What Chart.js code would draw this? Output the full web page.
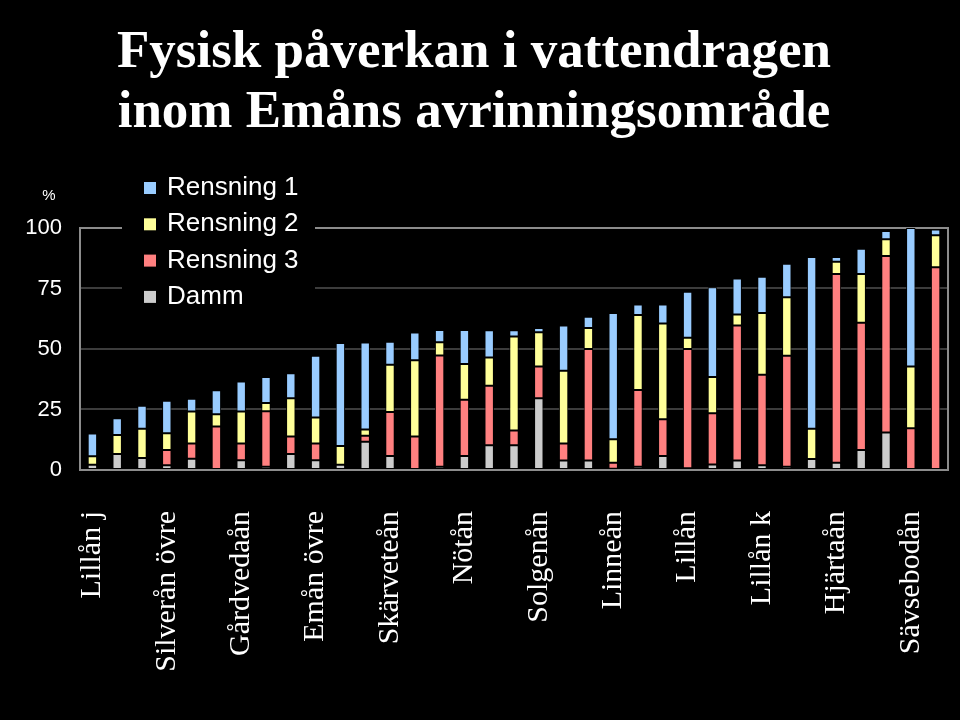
<!DOCTYPE html>
<html>
<head>
<meta charset="utf-8">
<script src="https://cdn.jsdelivr.net/npm/chart.js@4"></script>
<style>
  html, body { margin: 0; padding: 0; background: #000; }
  #wrap { width: 960px; height: 720px; }
</style>
</head>
<body>
<div id="wrap"><canvas id="chart" width="960" height="720"></canvas></div>
<script>
// vattendrag, bara var tredje har namn i originalet
const categories = [
  'Lillån j', '', '', 'Silverån övre', '', '', 'Gårdvedaån', '', '',
  'Emån övre', '', '', 'Skärveteån', '', '', 'Nötån', '', '',
  'Solgenån', '', '', 'Linneån', '', '', 'Lillån', '', '',
  'Lillån k', '', '', 'Hjärtaån', '', '', 'Sävsebodån', ''
];

// andel (%) per typ av påverkan
const damm = [2.2, 6.6, 5.0, 2.0, 4.7, 0, 4.0, 1.3, 6.6, 4.0, 2.2, 11.7, 5.8, 0, 1.3, 5.8, 10.2, 10.2, 29.6, 3.9, 3.9, 0.5, 1.3, 5.8, 0.7, 2.3, 3.9, 2.0, 1.3, 4.5, 3.0, 8.3, 15.5, 0, 0];
const rensning3 = [0, 0, 0, 6.3, 6.3, 18, 7.0, 23, 7.2, 7.0, 0, 2.5, 18.2, 13.8, 46, 23.2, 24.6, 6.1, 13.2, 7.1, 46.1, 2.5, 31.8, 15.2, 49.3, 21.2, 55.8, 37.4, 45.9, 0, 78, 52.5, 72.9, 17.3, 83.8];
const rensning2 = [3.5, 7.9, 12.0, 6.9, 13.2, 5.0, 13.2, 3.4, 15.8, 10.7, 7.7, 2.5, 19.5, 31.5, 5.5, 14.8, 11.7, 38.9, 14.1, 30, 8.7, 9.7, 30.9, 39.5, 4.6, 14.9, 4.5, 25.5, 24.2, 12.5, 5, 20.2, 6.9, 25.5, 13.2];
const rensning1 = [9.4, 6.9, 9.5, 13.4, 5.2, 10, 12.4, 10.7, 10.4, 25.5, 42.6, 36, 9.5, 11.5, 5, 14, 11.2, 2.5, 1.8, 18.7, 4.6, 52.2, 4.4, 7.9, 19, 37.1, 14.9, 14.9, 13.8, 71, 2, 10.4, 3.5, 57.2, 2.4];

const yTicks = [0, 25, 50, 75, 100];

const colors = {
  'Rensning 1': '#99ccff',
  'Rensning 2': '#ffff99',
  'Rensning 3': '#ff8080',
  'Damm': '#cccccc'
};

function ds(label, data) {
  return {
    label: label,
    data: data,
    backgroundColor: colors[label],
    borderColor: '#000',
    borderWidth: 1,
    borderSkipped: false,
    barPercentage: 0.38,
    categoryPercentage: 1
  };
}

// ram, legend inne i diagrammet och procenttecken
const framePlugin = {
  id: 'frame',
  beforeDatasetsDraw(chart) {
    const { ctx, chartArea: a } = chart;
    ctx.save();
    ctx.strokeStyle = '#8c8c8c';
    ctx.lineWidth = 2;
    ctx.beginPath();
    ctx.moveTo(a.left, a.top);
    ctx.lineTo(a.right, a.top);
    ctx.lineTo(a.right, a.bottom);
    ctx.stroke();

    // legend
    ctx.fillStyle = '#000';
    ctx.fillRect(122, 168, 193, 148);
    const items = chart.data.datasets.slice().reverse();
    ctx.font = '26px "Liberation Sans", Arial, sans-serif';
    ctx.textBaseline = 'middle';
    items.forEach((d, i) => {
      const y = 188 + i * 36.3;
      ctx.fillStyle = d.backgroundColor;
      ctx.fillRect(144, y - 6, 12, 12);
      ctx.fillStyle = '#fff';
      ctx.fillText(d.label, 167, y);
    });

    ctx.font = '15px "Liberation Sans", Arial, sans-serif';
    ctx.textAlign = 'center';
    ctx.fillText('%', 49, 196);
    ctx.restore();
  }
};

new Chart(document.getElementById('chart'), {
  type: 'bar',
  data: {
    labels: categories,
    datasets: [
      ds('Damm', damm),
      ds('Rensning 3', rensning3),
      ds('Rensning 2', rensning2),
      ds('Rensning 1', rensning1)
    ]
  },
  options: {
    responsive: false,
    animation: false,
    layout: { padding: { left: 0, right: 12, top: 0, bottom: 0 } },
    plugins: {
      legend: { display: false },
      tooltip: { enabled: false },
      title: {
        display: true,
        text: ['Fysisk påverkan i vattendragen', 'inom Emåns avrinningsområde'],
        color: '#fff',
        font: { family: '"Liberation Serif", "Times New Roman", serif', size: 53, weight: 'bold', lineHeight: 1.13 },
        padding: { top: 23, bottom: 85.2 }
      }
    },
    scales: {
      x: {
        stacked: true,
        grid: { display: false },
        border: { display: true, color: '#8c8c8c', width: 2 },
        afterFit(axis) {
          axis.height = 250;
          axis.paddingLeft = 0;
          axis.paddingRight = 0;
        },
        ticks: {
          autoSkip: false,
          maxRotation: 90,
          minRotation: 90,
          padding: 33,
          color: '#fff',
          font: { family: '"Liberation Serif", "Times New Roman", serif', size: 30 }
        }
      },
      y: {
        stacked: true,
        min: 0,
        max: 100,
        afterFit(axis) { axis.width = 80; },
        afterBuildTicks(axis) { axis.ticks = yTicks.map(v => ({ value: v })); },
        grid: {
          drawTicks: false,
          color: c => (c.tick.value > 0 && c.tick.value < 100) ? '#3c3c3c' : 'rgba(0,0,0,0)',
          lineWidth: 2
        },
        border: { display: true, color: '#8c8c8c', width: 2 },
        ticks: {
          padding: 18,
          color: '#fff',
          font: { family: '"Liberation Sans", Arial, sans-serif', size: 22 }
        }
      }
    }
  },
  plugins: [framePlugin]
});
</script>
</body>
</html>
